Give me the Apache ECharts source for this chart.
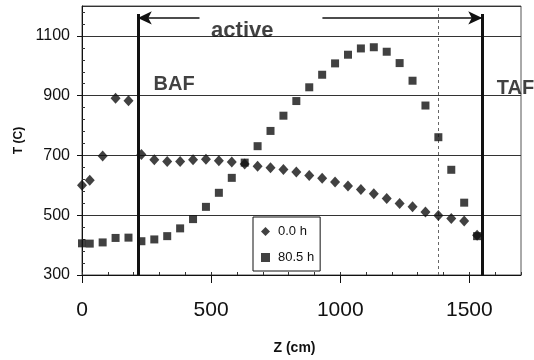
<!DOCTYPE html>
<html><head><meta charset="utf-8">
<script src="https://cdn.jsdelivr.net/npm/echarts@6/dist/echarts.min.js"></script>
<style>html,body{margin:0;padding:0;background:#fff}#c{width:534px;height:360px}</style>
</head><body><div id="c"></div>
<script>
// ---- data ----
const zPos = [0,30,80,130,180,230,280,330,380,430,480,530,580,630,680,730,780,830,880,930,980,1030,1080,1130,1180,1230,1280,1330,1380,1430,1480,1530];
const t00h = [600,617,698,891,883,703,686,680,680,686,687,682,678,671,664,659,653,645,633,624,611,598,586,572,556,539,528,511,499,489,481,433];
const t805h = [406,405,409,424,425,413,419,430,456,487,528,575,625,676,731,782,833,882,928,970,1008,1037,1058,1062,1047,1009,950,867,761,652,542,430];
const seriesNames = ['0.0 h', '80.5 h'];
const xTickLabels = [0, 500, 1000, 1500];
const yTickLabels = [300, 500, 700, 900, 1100];
const xRange = [0, 1700];
const yRange = [300, 1200];
const bafZ = 216, tafZ = 1550, dashZ = 1380;
const lineTopT = 1173, arrowT = 1160, leftArrowEndZ = 455, rightArrowStartZ = 931;
const notes = [
  {text: 'active', z: 500, t: 1115},
  {text: 'BAF', z: 277, t: 937},
  {text: 'TAF', z: 1606, t: 923}
];

const FONT = 'Liberation Sans, Arial, sans-serif';
const chart = echarts.init(document.getElementById('c'), null, {renderer: 'canvas'});

const mk = (arr) => zPos.map((z, i) => [z, arr[i]]);

chart.setOption({
  animation: false,
  backgroundColor: '#fff',
  grid: {left: 82, right: 13, top: 6, bottom: 85, show: true, borderColor: '#555', borderWidth: 1, backgroundColor: 'transparent'},
  legend: {
    data: [{name: seriesNames[0], itemStyle: {}}, {name: seriesNames[1]}],
    orient: 'vertical', left: 253, top: 217,
    backgroundColor: '#fff', borderColor: '#111', borderWidth: 1,
    padding: [8, 6, 7, 8], itemGap: 13, itemWidth: 9, itemHeight: 9,
    textStyle: {fontFamily: FONT, fontSize: 13, color: '#111', padding: [0, 0, 0, 3]}
  },
  xAxis: [{
    type: 'value', min: xRange[0], max: xRange[1], interval: 500,
    name: 'Z (cm)', nameLocation: 'middle', nameGap: 66,
    nameTextStyle: {fontFamily: FONT, fontSize: 14, fontWeight: 'bold', color: '#111', padding: [0, 14, 0, 0]},
    axisLine: {show: true, onZero: false, lineStyle: {color: '#111', width: 1}},
    axisTick: {show: true, length: 8, lineStyle: {color: '#111'}},
    axisLabel: {fontFamily: FONT, fontSize: 21, color: '#111', margin: 25, showMaxLabel: false,
      formatter: v => xTickLabels.includes(v) ? String(v) : ''},
    splitLine: {show: false}
  }, {
    type: 'value', min: xRange[0], max: xRange[1], interval: 100, position: 'bottom',
    axisLine: {show: false}, axisLabel: {show: false}, splitLine: {show: false},
    axisTick: {show: true, inside: true, length: 3, lineStyle: {color: '#333'}}
  }],
  yAxis: [{
    type: 'value', min: yRange[0], max: yRange[1], interval: 200,
    name: 'T (C)', nameLocation: 'middle', nameGap: 55, nameRotate: 90,
    nameTextStyle: {fontFamily: FONT, fontSize: 12, fontWeight: 'bold', color: '#111'},
    axisLine: {show: true, onZero: false, lineStyle: {color: '#111', width: 1}},
    axisTick: {show: true, length: 5, lineStyle: {color: '#111'}},
    axisLabel: {fontFamily: FONT, fontSize: 16, color: '#111', margin: 12, showMaxLabel: false,
      formatter: v => yTickLabels.includes(v) ? String(v) : ''},
    splitLine: {show: true, lineStyle: {color: '#333', width: 1}}
  }, {
    type: 'value', min: yRange[0], max: yRange[1], interval: 200, position: 'left',
    axisLine: {show: false}, axisLabel: {show: false}, splitLine: {show: false},
    axisTick: {show: false, inside: true},
    minorTick: {show: true, splitNumber: 5, length: 3, lineStyle: {color: '#333'}}
  }],
  series: [{
    name: seriesNames[0], type: 'scatter', symbol: 'diamond', symbolSize: [10, 11],
    itemStyle: {color: '#111'}, data: mk(t00h), z: 5,
    markLine: {
      silent: true, animation: false, label: {show: false},
      data: [
        [{coord: [bafZ, yRange[0]], symbol: 'none', lineStyle: {color: '#111', width: 3, type: 'solid'}},
         {coord: [bafZ, lineTopT], symbol: 'none'}],
        [{coord: [tafZ, yRange[0]], symbol: 'none', lineStyle: {color: '#111', width: 3, type: 'solid'}},
         {coord: [tafZ, lineTopT], symbol: 'none'}],
        [{coord: [dashZ, yRange[0]], symbol: 'none', lineStyle: {color: '#666', width: 1, type: [3, 3]}},
         {coord: [dashZ, yRange[1]], symbol: 'none'}],
        [{coord: [leftArrowEndZ, arrowT], symbol: 'none', lineStyle: {color: '#111', width: 1.5, type: 'solid'}},
         {coord: [bafZ, arrowT], symbol: 'arrow', symbolSize: [10, 14]}],
        [{coord: [rightArrowStartZ, arrowT], symbol: 'none', lineStyle: {color: '#111', width: 1.5, type: 'solid'}},
         {coord: [tafZ, arrowT], symbol: 'arrow', symbolSize: [10, 14]}]
      ]
    }
  }, {
    name: seriesNames[1], type: 'scatter', symbol: 'rect', symbolSize: 8,
    itemStyle: {color: '#111'}, data: mk(t805h), z: 5
  }, {
    name: 'notes', type: 'scatter', symbolSize: 0, silent: true, clip: false,
    data: notes.map(n => ({value: [n.z, n.t], name: n.text,
      label: {fontSize: n.text === 'active' ? 22 : 20}})),
    label: {show: true, position: 'right', distance: 0, formatter: p => p.name,
      fontFamily: FONT, fontWeight: 'bold', color: '#111'}
  }]
});
</script></body></html>
